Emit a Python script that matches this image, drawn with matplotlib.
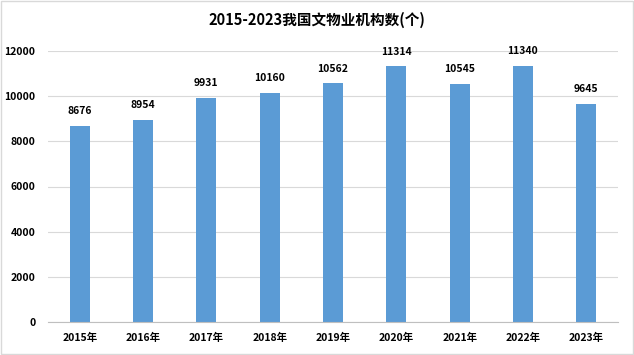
import matplotlib.pyplot as plt
import numpy as np

plt.rcParams['font.family'] = ['Noto Sans CJK SC', 'DejaVu Sans']

years = ['2015年', '2016年', '2017年', '2018年', '2019年', '2020年', '2021年', '2022年', '2023年']
counts = [8676, 8954, 9931, 10160, 10562, 11314, 10545, 11340, 9645]
yticks = [0, 2000, 4000, 6000, 8000, 10000, 12000]

fig = plt.figure(figsize=(6.34, 3.55), dpi=100)
ax = fig.add_axes([48 / 634, 1 - 322 / 355, 570 / 634, 271 / 355])

x = np.arange(len(years))
ax.bar(x, counts, width=0.32, color='#5B9BD5', zorder=2)
for xi, v in zip(x, counts):
    ax.annotate(str(v), (xi, v), xytext=(0, 7), textcoords='offset points',
                ha='center', va='bottom', fontsize=7.5, fontweight='bold')

ax.set_xlim(-0.5, len(years) - 0.5)
ax.set_ylim(0, 12000)
ax.set_yticks(yticks)
ax.set_yticklabels([str(t) for t in yticks], fontsize=7.5, fontweight='bold')
ax.set_xticks(x)
ax.set_xticklabels(years, fontsize=7.5, fontweight='bold')
ax.grid(axis='y', color='#D9D9D9', linewidth=0.8, zorder=0)
for s in ['top', 'right', 'left']:
    ax.spines[s].set_visible(False)
ax.spines['bottom'].set_color('#BFBFBF')
ax.tick_params(axis='y', length=0, pad=9)
ax.tick_params(axis='x', length=0, pad=8)

fig.text(0.5, 1 - 20 / 355, '2015-2023我国文物业机构数(个)', ha='center', va='center',
         fontsize=10.5, fontweight='bold')

border = plt.Rectangle((0.002, 0.003), 0.996, 0.994, transform=fig.transFigure,
                       fill=False, edgecolor='#D9D9D9', linewidth=1)
fig.patches.append(border)

fig.savefig('out.png', dpi=100)
